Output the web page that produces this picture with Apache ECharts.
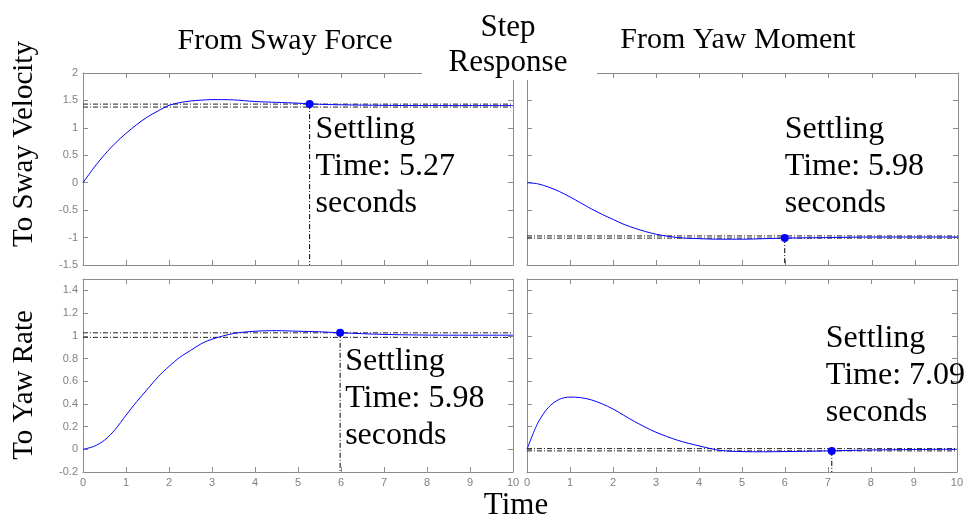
<!DOCTYPE html>
<html>
<head>
<meta charset="utf-8">
<title>Step Response</title>
<script src="https://cdn.jsdelivr.net/npm/echarts@6/dist/echarts.min.js"></script>
<style>
    html, body { margin: 0; padding: 0; background: #fff; }
    #chart { width: 966px; height: 517px; }
</style>
</head>
<body>
<div id="chart"></div>
<script type="text/javascript">
    // time samples shared by the four responses
    var timeData = [0, 0.25, 0.5, 0.75, 1, 1.25, 1.5, 1.75, 2, 2.25, 2.5, 2.75, 3, 3.5, 4, 4.5, 5, 5.5, 6, 7, 8, 9, 10];

    // responses
    var swayFromForce = [0, 0.27, 0.51, 0.72, 0.90, 1.06, 1.20, 1.31, 1.41, 1.46, 1.49, 1.505, 1.515, 1.51, 1.48, 1.465, 1.45, 1.43, 1.42, 1.41, 1.406, 1.406, 1.406];
    var swayFromMoment = [0, -0.02, -0.08, -0.16, -0.26, -0.37, -0.48, -0.58, -0.67, -0.76, -0.83, -0.89, -0.94, -1.00, -1.02, -1.03, -1.03, -1.02, -1.01, -1.0, -0.99, -0.99, -0.99];
    var yawFromForce = [0, 0.025, 0.08, 0.175, 0.30, 0.42, 0.53, 0.64, 0.73, 0.81, 0.87, 0.93, 0.97, 1.02, 1.04, 1.045, 1.04, 1.035, 1.026, 1.012, 1.006, 1.005, 1.005];
    var yawFromMoment = [0, 0.23, 0.37, 0.44, 0.46, 0.455, 0.435, 0.40, 0.355, 0.30, 0.245, 0.195, 0.15, 0.08, 0.03, -0.01, -0.02, -0.022, -0.02, -0.014, -0.006, -0.002, 0];

    // settling info per panel (TL, TR, BL, BR)
    var settleTime = [5.27, 5.98, 5.98, 7.09];
    var settleValue = [1.433, -1.01, 1.026, -0.014];
    var bandHigh = [1.433, -0.97, 1.026, 0.006];
    var bandLow = [1.379, -1.01, 0.986, -0.014];

    // axis ranges
    var timeTicks = {min: 0, max: 10, interval: 1};
    var yMin = [-1.5, -1.5, -0.2, -0.2];
    var yMax = [2, 2, 1.5, 1.5];
    var yStep = [0.5, 0.5, 0.2, 0.2];

    var curves = [swayFromForce, swayFromMoment, yawFromForce, yawFromMoment];

    var axisColor = '#8c8c8c';
    var labelColor = '#808080';
    var dashDot = [5, 2, 1, 2];

    var grids = [
        {left: 83, top: 73, width: 430, height: 192},
        {left: 527, top: 73, width: 431, height: 192},
        {left: 83, top: 279, width: 430, height: 193},
        {left: 527, top: 279, width: 431, height: 193}
    ];

    var xAxes = [], yAxes = [], series = [];

    for (var i = 0; i < 4; i++) {
        ['bottom', 'top'].forEach(function (pos) {
            xAxes.push({
                type: 'value', gridIndex: i, position: pos,
                min: timeTicks.min, max: timeTicks.max, interval: timeTicks.interval,
                axisLine: {onZero: false, lineStyle: {color: axisColor, width: 1}},
                axisTick: {inside: true, length: 5, lineStyle: {color: axisColor}},
                axisLabel: {
                    show: pos == 'bottom' && i >= 2, color: labelColor, fontSize: 11,
                    fontFamily: 'Liberation Sans', margin: 5
                },
                splitLine: {show: false}
            });
        });
        ['left', 'right'].forEach(function (pos) {
            yAxes.push({
                type: 'value', gridIndex: i, position: pos,
                min: yMin[i], max: yMax[i], interval: yStep[i],
                axisLine: {show: true, onZero: false, lineStyle: {color: axisColor, width: 1}},
                axisTick: {show: true, inside: true, length: 5, lineStyle: {color: axisColor}},
                axisLabel: {
                    show: pos == 'left' && i % 2 == 0, color: labelColor, fontSize: 11,
                    fontFamily: 'Liberation Sans', margin: 5,
                    showMaxLabel: i < 2, showMinLabel: true
                },
                splitLine: {show: false}
            });
        });

        var xi = 2 * i, yi = 2 * i;
        var curve = curves[i];

        // settling band
        [bandHigh[i], bandLow[i]].forEach(function (v) {
            series.push({
                type: 'line', xAxisIndex: xi, yAxisIndex: yi, silent: true,
                showSymbol: false, z: 1,
                lineStyle: {color: '#222', width: 1, type: dashDot},
                data: [[timeTicks.min, v], [timeTicks.max, v]]
            });
        });

        // step response
        series.push({
            type: 'line', xAxisIndex: xi, yAxisIndex: yi, smooth: 0.3,
            showSymbol: false, z: 3,
            lineStyle: {color: '#0000ff', width: 1},
            data: timeData.map(function (t, k) { return [t, curve[k]]; })
        });

        // settling time drop line
        series.push({
            type: 'line', xAxisIndex: xi, yAxisIndex: yi, silent: true,
            showSymbol: false, z: 2,
            lineStyle: {color: '#000', width: 1, type: dashDot},
            data: [[settleTime[i], settleValue[i]], [settleTime[i], yMin[i]]]
        });
    }

    // settling markers with their text
    var labelPos = [[10, 11], [4, -123], [9, 14], [-2, -127]];
    for (var j = 0; j < 4; j++) {
        series.push({
            type: 'scatter', xAxisIndex: 2 * j, yAxisIndex: 2 * j, z: 5,
            symbolSize: 8,
            itemStyle: {color: '#0000ff', opacity: 1},
            label: {
                show: true, position: labelPos[j],
                formatter: 'Settling\nTime: ' + settleTime[j].toFixed(2) + '\nseconds',
                fontFamily: 'Liberation Serif', fontSize: 32, lineHeight: 37,
                color: '#000', opacity: 1
            },
            data: [[settleTime[j], settleValue[j]]]
        });
    }

    function txt(s, x, y, size, rot) {
        return {
            type: 'text', x: x, y: y, rotation: rot || 0, z: 110,
            style: {
                text: s, font: size + 'px "Liberation Serif"', fill: '#000',
                align: 'center', verticalAlign: 'middle',
                textAlign: 'center', textVerticalAlign: 'middle'
            }
        };
    }

    var myChart = echarts.init(document.getElementById('chart'));
    option = {
        animation: false,
        backgroundColor: '#fff',
        grid: grids,
        xAxis: xAxes,
        yAxis: yAxes,
        series: series,
        graphic: [
            {type: 'rect', z: 100, shape: {x: 422, y: 0, width: 175, height: 80}, style: {fill: '#fff'}},
            txt('From Sway Force', 285, 41, 30),
            txt('From Yaw Moment', 738, 40, 30),
            txt('Step', 508, 28, 31),
            txt('Response', 508, 63, 31),
            txt('Time', 516, 506, 31),
            txt('To Sway Velocity', 24, 144, 29, Math.PI / 2),
            txt('To Yaw Rate', 24, 385, 29, Math.PI / 2)
        ]
    };
    myChart.setOption(option);
</script>
</body>
</html>
